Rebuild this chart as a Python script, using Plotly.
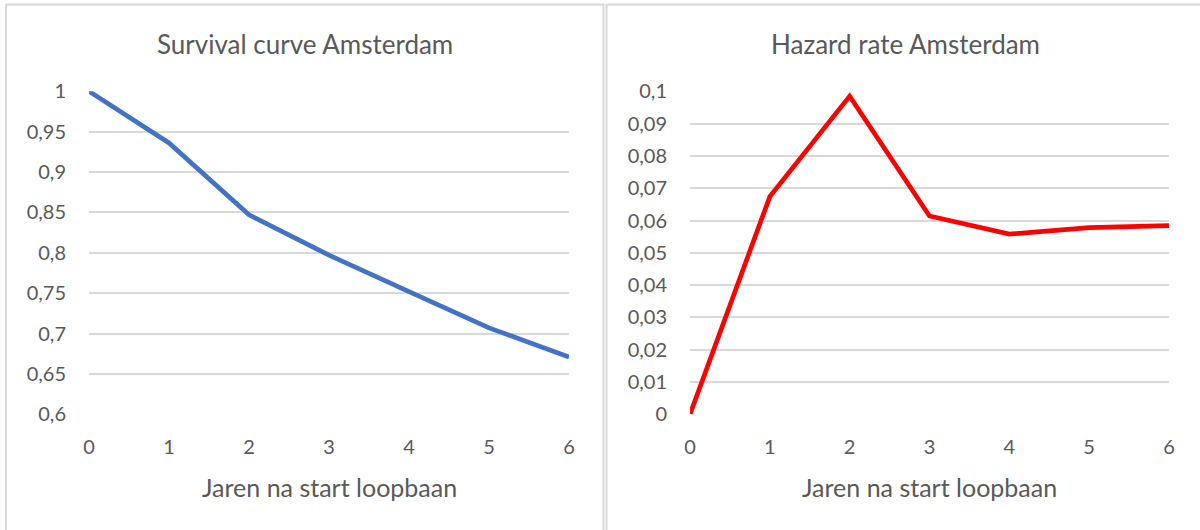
import plotly.graph_objects as go

years = [0, 1, 2, 3, 4, 5, 6]
survival = [1.0, 0.936, 0.847, 0.797, 0.752, 0.707, 0.671]
hazard = [0.0, 0.0674, 0.0985, 0.0614, 0.0558, 0.0578, 0.0584]

surv_tickvals = [0.6, 0.65, 0.7, 0.75, 0.8, 0.85, 0.9, 0.95, 1.0]
surv_ticktext = ["0,6", "0,65", "0,7", "0,75", "0,8", "0,85", "0,9", "0,95", "1"]
haz_tickvals = [0, 0.01, 0.02, 0.03, 0.04, 0.05, 0.06, 0.07, 0.08, 0.09, 0.1]
haz_ticktext = ["0", "0,01", "0,02", "0,03", "0,04", "0,05", "0,06", "0,07", "0,08", "0,09", "0,1"]
x_ticks = [0, 1, 2, 3, 4, 5, 6]

title_left = "Survival curve Amsterdam"
title_right = "Hazard rate Amsterdam"
x_title = "Jaren na start loopbaan"

W, H = 1200, 530
FONT = "Lato"
TXT = "#595959"
GRID = "#D9D9D9"

def px(x):
    return x / W

def py(y):
    return 1 - y / H

fig = go.Figure()
fig.add_trace(go.Scatter(x=years, y=survival, mode="lines",
                         line=dict(color="#4472C4", width=4.7),
                         xaxis="x", yaxis="y", showlegend=False))
fig.add_trace(go.Scatter(x=years, y=hazard, mode="lines",
                         line=dict(color="#FF0000", width=4.7),
                         xaxis="x2", yaxis="y2", showlegend=False))

ydom = [py(414.3), py(91.3)]
common_x = dict(range=[0, 6], tickvals=x_ticks, showgrid=False, zeroline=False,
                showline=False, ticks="", automargin=False,
                tickfont=dict(family=FONT, size=20, color=TXT),
                ticklabelstandoff=19)
common_y = dict(showgrid=True, gridcolor=GRID, gridwidth=1.5, zeroline=False, showline=False,
                ticks="", automargin=False,
                tickfont=dict(family=FONT, size=20, color=TXT), ticklabelstandoff=22)

fig.update_layout(
    width=W, height=H,
    margin=dict(l=0, r=0, t=0, b=0, autoexpand=False),
    paper_bgcolor="white", plot_bgcolor="white",
    xaxis=dict(domain=[px(89), px(569)], anchor="y", **common_x),
    yaxis=dict(domain=ydom, anchor="x", range=[0.6, 1.0], tickvals=surv_tickvals,
               ticktext=surv_ticktext, **common_y),
    xaxis2=dict(domain=[px(690), px(1169)], anchor="y2", **common_x),
    yaxis2=dict(domain=ydom, anchor="x2", range=[0, 0.1], tickvals=haz_tickvals,
                ticktext=haz_ticktext, **common_y),
    annotations=[
        dict(text=title_left, x=px(305), y=py(44), xref="paper", yref="paper",
             showarrow=False, xanchor="center", yanchor="middle",
             font=dict(family=FONT, size=26, color=TXT)),
        dict(text=title_right, x=px(905), y=py(44), xref="paper", yref="paper",
             showarrow=False, xanchor="center", yanchor="middle",
             font=dict(family=FONT, size=26, color=TXT)),
        dict(text=x_title, x=px(329), y=py(487), xref="paper", yref="paper",
             showarrow=False, xanchor="center", yanchor="middle",
             font=dict(family=FONT, size=25, color=TXT)),
        dict(text=x_title, x=px(929), y=py(487), xref="paper", yref="paper",
             showarrow=False, xanchor="center", yanchor="middle",
             font=dict(family=FONT, size=25, color=TXT)),
    ],
    shapes=[
        dict(type="rect", xref="paper", yref="paper", x0=px(6), x1=px(603.5),
             y0=py(540), y1=py(4.5), line=dict(color=GRID, width=2), fillcolor="rgba(0,0,0,0)"),
        dict(type="rect", xref="paper", yref="paper", x0=px(606.5), x1=px(1210),
             y0=py(540), y1=py(4.5), line=dict(color=GRID, width=2), fillcolor="rgba(0,0,0,0)"),
    ],
)

fig.write_html(
    "out.html",
    config={"displayModeBar": False},
    post_script="document.body.style.margin='0';document.body.style.padding='0';",
)
